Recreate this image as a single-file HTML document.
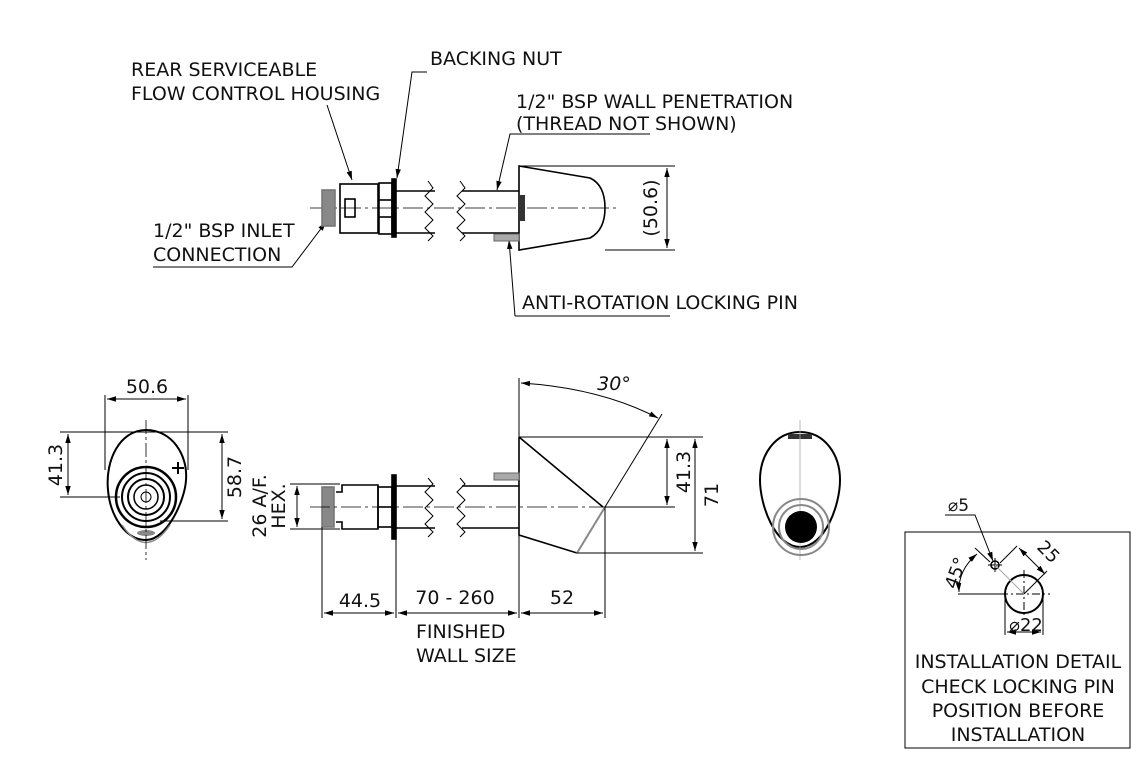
<!DOCTYPE html>
<html><head><style>body{margin:0;background:#fff}svg{display:block}text{font-family:"DejaVu Sans","Liberation Sans",sans-serif;fill:#111}</style></head><body>
<svg width="1140" height="760" viewBox="0 0 1140 760" xmlns="http://www.w3.org/2000/svg">
<defs><marker id="a" viewBox="0 0 10 10" refX="10" refY="5" markerWidth="9" markerHeight="9" orient="auto-start-reverse"><path d="M0,2 L10,5 L0,8z" fill="#000"/></marker></defs>
<g font-size="19">
<text x="131" y="76">REAR SERVICEABLE</text>
<text x="131" y="100">FLOW CONTROL HOUSING</text>
<text x="430" y="65">BACKING NUT</text>
<text x="516" y="108">1/2" BSP WALL PENETRATION</text>
<text x="516" y="130">(THREAD NOT SHOWN)</text>
<text x="153" y="237">1/2" BSP INLET</text>
<text x="153" y="261">CONNECTION</text>
<text x="522" y="309">ANTI-ROTATION LOCKING PIN</text>
</g>
<g stroke="#000" fill="none" stroke-width="1">
<path d="M327 105 L352 180" marker-end="url(#a)"/>
<path d="M427 72 H412 L397 178" marker-end="url(#a)"/>
<path d="M516 134 H510 L497 190" marker-end="url(#a)"/>
<path d="M153 267 H292 L326 222" marker-end="url(#a)"/>
<path d="M515 316 L509 240" marker-end="url(#a)"/>
<path d="M515 316 H670"/>
<path d="M516 134 H650"/>
<path d="M310 208 H620" stroke-dasharray="20,4,3,4" stroke-width="0.8"/>
</g>
<!-- top view -->
<g stroke="#000" fill="none" stroke-width="1.6">
<rect x="322" y="190" width="13" height="36" fill="#888" stroke="#777"/>
<rect x="340" y="184" width="38" height="49"/>
<rect x="345" y="199" width="10" height="18"/>
<rect x="379" y="183" width="13" height="51"/>
<line x1="379" y1="200" x2="392" y2="200"/><line x1="379" y1="217" x2="392" y2="217"/>
<rect x="392" y="179" width="4" height="58" fill="#000"/>
<line x1="396" y1="191" x2="435" y2="191"/><line x1="396" y1="233" x2="435" y2="233"/>
<path d="M428 181 l5 7 -8 8 8 8 -8 8 8 8 -8 8 8 8 -5 5" stroke-width="1"/>
<path d="M460 181 l5 7 -8 8 8 8 -8 8 8 8 -8 8 8 8 -5 5" stroke-width="1"/>
<line x1="462" y1="191" x2="519" y2="191"/><line x1="462" y1="233" x2="519" y2="233"/>
<path d="M519 166 L590 178 Q605 185 605 208 Q605 230 590 238 L519 250 Z"/>
<rect x="519" y="195" width="6" height="26" fill="#333" stroke="none"/>
<rect x="494" y="234" width="25" height="7" fill="#aaa" stroke="#666" stroke-width="1"/>
</g>
<g stroke="#000" stroke-width="1" fill="none">
<line x1="519" y1="166" x2="675" y2="166"/><line x1="605" y1="250" x2="675" y2="250"/>
<line x1="667" y1="168" x2="667" y2="248" marker-start="url(#a)" marker-end="url(#a)"/>
</g>
<text x="657" y="208" font-size="19" transform="rotate(-90 657 208)" text-anchor="middle">(50.6)</text>
<!-- left end view -->
<g stroke="#000" fill="none">
<path d="M146 430 C120 430 105 460 108 490 C110 515 125 540 146 540 C167 540 185 500 186 480 C188 455 172 430 146 430Z" stroke-width="2"/>
<path d="M122 525 Q146 560 170 525" stroke="#888" stroke-width="1.5"/>
<circle cx="146" cy="497" r="30" stroke-width="2.5"/><circle cx="146" cy="497" r="24" stroke-width="2"/><circle cx="146" cy="497" r="18" stroke-width="2"/><circle cx="146" cy="497" r="12" stroke-width="1.5"/><circle cx="146" cy="497" r="5" stroke-width="1"/>
<path d="M172 468 h12 M178 462 v12" stroke-width="2"/>
<ellipse cx="146" cy="533" rx="9" ry="3" fill="#888" stroke="none"/>
<line x1="146" y1="420" x2="146" y2="560" stroke-dasharray="14,3,3,3" stroke-width="0.8"/>
<g stroke-width="1">
<line x1="105" y1="395" x2="105" y2="470"/><line x1="188" y1="395" x2="188" y2="470"/>
<line x1="107" y1="399" x2="186" y2="399" marker-start="url(#a)" marker-end="url(#a)"/>
<line x1="60" y1="432" x2="228" y2="432"/><line x1="60" y1="497" x2="120" y2="497"/><line x1="160" y1="521" x2="228" y2="521"/>
<line x1="68" y1="434" x2="68" y2="495" marker-start="url(#a)" marker-end="url(#a)"/>
<line x1="222" y1="434" x2="222" y2="519" marker-start="url(#a)" marker-end="url(#a)"/>
</g></g>
<text x="147" y="393" font-size="19" text-anchor="middle">50.6</text>
<text x="62" y="465" font-size="19" transform="rotate(-90 62 465)" text-anchor="middle">41.3</text>
<text x="241" y="477" font-size="19" transform="rotate(-90 241 477)" text-anchor="middle">58.7</text>
<!-- side view -->
<g stroke="#000" fill="none" stroke-width="1.6">
<rect x="322" y="487" width="12" height="40" fill="#888" stroke="#777"/>
<path d="M336 492 H342 V485 H378 V529 H342 V522 H336"/>
<rect x="378" y="487" width="14" height="40"/><line x1="378" y1="507" x2="392" y2="507"/>
<rect x="392" y="475" width="4" height="64" fill="#000"/>
<line x1="396" y1="486" x2="435" y2="486"/><line x1="396" y1="528" x2="435" y2="528"/>
<path d="M428 478 l5 6 -8 8 8 8 -8 8 8 8 -8 8 8 8 -5 5" stroke-width="1"/>
<path d="M460 478 l5 6 -8 8 8 8 -8 8 8 8 -8 8 8 8 -5 5" stroke-width="1"/>
<line x1="462" y1="486" x2="519" y2="486"/><line x1="462" y1="528" x2="519" y2="528"/>
<path d="M519 437 V535 L577 553 M519 437 L603 507"/>
<line x1="577" y1="553" x2="605" y2="507" stroke="#888" stroke-width="2"/>
<rect x="494" y="473" width="25" height="7" fill="#aaa" stroke="#666" stroke-width="1"/>
</g>
<g stroke="#000" stroke-width="1" fill="none">
<line x1="310" y1="507" x2="620" y2="507" stroke-dasharray="20,4,3,4" stroke-width="0.8"/>
<line x1="519" y1="378" x2="519" y2="437"/><line x1="605" y1="507" x2="662" y2="414"/>
<path d="M521 383 Q600 388 658 418" marker-start="url(#a)" marker-end="url(#a)"/>
<line x1="519" y1="437" x2="703" y2="437"/><line x1="605" y1="507" x2="675" y2="507"/><line x1="577" y1="553" x2="703" y2="553"/>
<line x1="667" y1="439" x2="667" y2="505" marker-start="url(#a)" marker-end="url(#a)"/>
<line x1="695" y1="439" x2="695" y2="551" marker-start="url(#a)" marker-end="url(#a)"/>
<line x1="290" y1="484" x2="340" y2="484"/><line x1="290" y1="529" x2="340" y2="529"/>
<line x1="297" y1="486" x2="297" y2="527" marker-start="url(#a)" marker-end="url(#a)"/>
<line x1="322" y1="527" x2="322" y2="618"/><line x1="396" y1="539" x2="396" y2="618"/><line x1="519" y1="535" x2="519" y2="618"/><line x1="605" y1="507" x2="605" y2="618"/>
<line x1="324" y1="613" x2="394" y2="613" marker-start="url(#a)" marker-end="url(#a)"/>
<line x1="398" y1="613" x2="517" y2="613" marker-start="url(#a)" marker-end="url(#a)"/>
<line x1="521" y1="613" x2="603" y2="613" marker-start="url(#a)" marker-end="url(#a)"/>
</g>
<text x="614" y="390" font-size="19" font-style="italic" text-anchor="middle">30°</text>
<text x="690" y="472" font-size="19" transform="rotate(-90 690 472)" text-anchor="middle">41.3</text>
<text x="718" y="495" font-size="19" transform="rotate(-90 718 495)" text-anchor="middle">71</text>
<text x="266" y="506" font-size="19" transform="rotate(-90 266 506)" text-anchor="middle">26 A/F.</text>
<text x="285" y="506" font-size="19" transform="rotate(-90 285 506)" text-anchor="middle">HEX.</text>
<text x="360" y="607" font-size="19" text-anchor="middle">44.5</text>
<text x="455" y="604" font-size="19" text-anchor="middle">70 - 260</text>
<text x="562" y="604" font-size="19" text-anchor="middle">52</text>
<text x="416" y="638" font-size="19">FINISHED</text>
<text x="416" y="662" font-size="19">WALL SIZE</text>
<!-- right end view -->
<g fill="none">
<path d="M800 432 C775 432 760 455 760 480 C760 505 775 547 800 547 C825 547 840 505 840 480 C840 455 825 432 800 432Z" stroke="#000" stroke-width="2"/>
<rect x="788" y="434" width="24" height="5" fill="#333"/>
<line x1="800" y1="420" x2="800" y2="560" stroke="#aaa" stroke-width="0.8"/>
<circle cx="801" cy="527" r="28" stroke="#888" stroke-width="2"/>
<circle cx="801" cy="527" r="22" stroke="#888" stroke-width="2"/>
<circle cx="801" cy="527" r="16" fill="#000"/>
</g>
<!-- installation detail -->
<rect x="905" y="532" width="225" height="216" fill="none" stroke="#000" stroke-width="1"/>
<g stroke="#000" fill="none" stroke-width="1">
<circle cx="1024" cy="594" r="19" stroke-width="2"/>
<line x1="1000" y1="594" x2="1050" y2="594" stroke-dasharray="8,3,2,3"/>
<line x1="1024" y1="570" x2="1024" y2="618" stroke-dasharray="8,3,2,3"/>
<circle cx="995" cy="565" r="4" stroke-width="1.5"/>
<path d="M988 565 h14 M995 558 v14"/>
<line x1="995" y1="565" x2="1024" y2="594" stroke="#aaa"/>
<path d="M945 515 H975 L993 561" marker-end="url(#a)"/>
<path d="M958 594 H1000"/>
<path d="M977 554 Q958 570 959 592" marker-start="url(#a)" marker-end="url(#a)"/>
<line x1="975" y1="548" x2="990" y2="562"/>
<path d="M1000 563 L1017 546"/><path d="M1024 594 L1047 571"/>
<line x1="1019" y1="548" x2="1045" y2="574" marker-start="url(#a)" marker-end="url(#a)"/>
<line x1="1005" y1="594" x2="1005" y2="635"/><line x1="1043" y1="594" x2="1043" y2="635"/>
<line x1="1007" y1="632" x2="1041" y2="632" marker-start="url(#a)" marker-end="url(#a)"/>
</g>
<text x="948" y="511" font-size="17">⌀5</text>
<text x="956" y="590" font-size="18" transform="rotate(-70 956 590)">45°</text>
<text x="1036" y="548" font-size="18" transform="rotate(45 1036 548)">25</text>
<text x="1026" y="631" font-size="18" text-anchor="middle">⌀22</text>
<g font-size="19" text-anchor="middle">
<text x="1018" y="668">INSTALLATION DETAIL</text>
<text x="1018" y="693">CHECK LOCKING PIN</text>
<text x="1018" y="717">POSITION BEFORE</text>
<text x="1018" y="741">INSTALLATION</text>
</g>
</svg>
</body></html>
